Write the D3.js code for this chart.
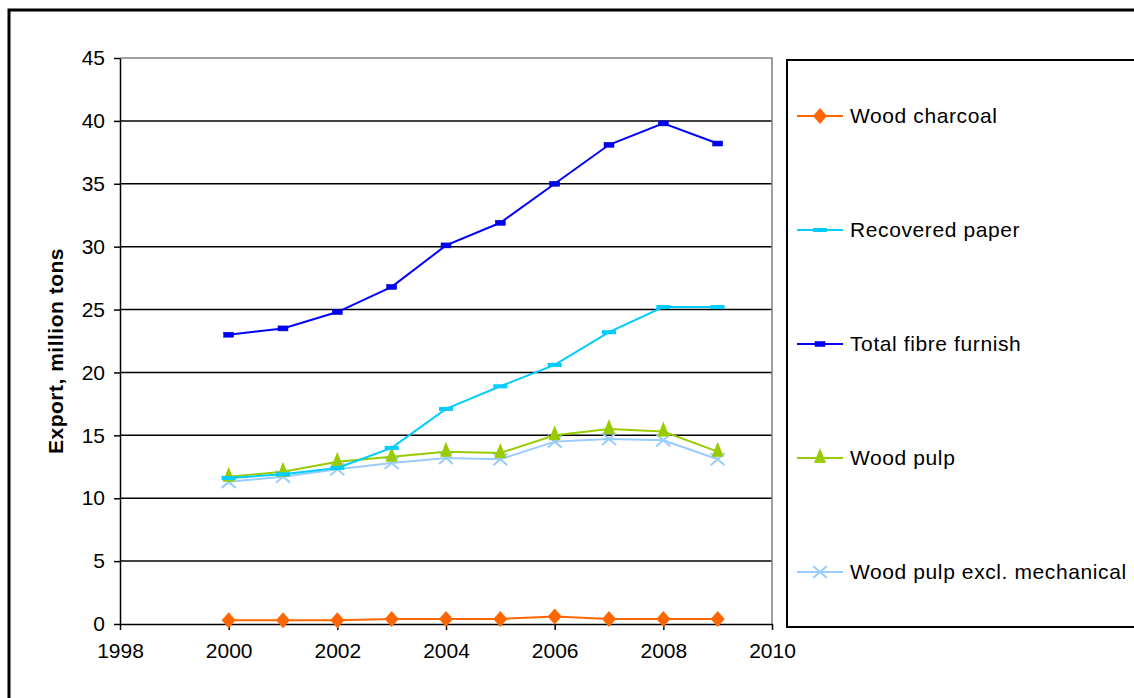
<!DOCTYPE html>
<html>
<head>
<meta charset="utf-8">
<script src="https://cdn.jsdelivr.net/npm/d3@7"></script>
<style>
  body { margin: 0; background: #fff; }
  svg { display: block; font-family: "Liberation Sans", Arial, sans-serif; }
</style>
</head>
<body>
<svg></svg>
<script>
const width = 1134;
const height = 698;

// Data
const years = [2000, 2001, 2002, 2003, 2004, 2005, 2006, 2007, 2008, 2009];
const woodCharcoal = [0.3, 0.3, 0.3, 0.4, 0.4, 0.4, 0.6, 0.4, 0.4, 0.4];
const recoveredPaper = [11.6, 11.9, 12.4, 14.0, 17.1, 18.9, 20.6, 23.2, 25.2, 25.2];
const totalFibre = [23.0, 23.5, 24.8, 26.8, 30.1, 31.9, 35.0, 38.1, 39.8, 38.2];
const woodPulp = [11.7, 12.1, 12.9, 13.3, 13.7, 13.6, 15.0, 15.5, 15.3, 13.7];
const woodPulpExcl = [11.3, 11.7, 12.3, 12.8, 13.2, 13.1, 14.5, 14.7, 14.6, 13.1];
const xTicks = [1998, 2000, 2002, 2004, 2006, 2008, 2010];
const yTicks = [0, 5, 10, 15, 20, 25, 30, 35, 40, 45];

const series = [
  { name: "Wood charcoal", values: woodCharcoal, color: "#ff6600", marker: "diamond" },
  { name: "Recovered paper", values: recoveredPaper, color: "#00ccff", marker: "dash" },
  { name: "Total fibre furnish", values: totalFibre, color: "#0000ff", marker: "square" },
  { name: "Wood pulp", values: woodPulp, color: "#99cc00", marker: "triangle" },
  { name: "Wood pulp excl. mechanical", values: woodPulpExcl, color: "#99ccff", marker: "cross" }
];

const svg = d3.select("svg")
  .attr("width", width)
  .attr("height", height);

// outer frame
svg.append("rect")
  .attr("x", 9).attr("y", 10)
  .attr("width", 1140).attr("height", 700)
  .attr("fill", "none")
  .attr("stroke", "#000")
  .attr("stroke-width", 3);

const plot = { left: 120, top: 58, right: 772, bottom: 624 };

const x = d3.scaleLinear().domain([1998, 2010]).range([plot.left, plot.right]);
const y = d3.scaleLinear().domain([0, 45]).range([plot.bottom, plot.top]);

// gridlines
svg.append("g")
  .selectAll("line")
  .data(yTicks.filter(d => d > 0 && d < 45))
  .enter().append("line")
  .attr("x1", plot.left).attr("x2", plot.right)
  .attr("y1", d => y(d)).attr("y2", d => y(d))
  .attr("stroke", "#000")
  .attr("stroke-width", 1.5);

// plot border (top, right)
svg.append("path")
  .attr("d", `M${plot.left},${plot.top}H${plot.right}V${plot.bottom}`)
  .attr("fill", "none")
  .attr("stroke", "#808080")
  .attr("stroke-width", 1.5);

// axes
const yAxis = svg.append("g")
  .attr("transform", `translate(${plot.left},0)`)
  .call(d3.axisLeft(y).tickValues(yTicks).tickSize(6).tickSizeOuter(0).tickPadding(9));
const xAxis = svg.append("g")
  .attr("transform", `translate(0,${plot.bottom})`)
  .call(d3.axisBottom(x).tickValues(xTicks).tickSize(6).tickSizeOuter(0).tickFormat(d3.format("d")).tickPadding(13));

[yAxis, xAxis].forEach(a => {
  a.select(".domain").attr("stroke", "#000").attr("stroke-width", 1.5);
  a.selectAll(".tick line").attr("stroke", "#000").attr("stroke-width", 1.5);
  a.selectAll("text").attr("font-size", 21).attr("fill", "#000")
    .attr("font-family", "Liberation Sans, Arial, sans-serif");
});

svg.append("text")
  .attr("transform", "translate(63,351) rotate(-90)")
  .attr("text-anchor", "middle")
  .attr("font-size", 21)
  .attr("letter-spacing", 0.5)
  .attr("font-weight", "bold")
  .text("Export, million tons");

// marker shapes
function drawMarker(g, type, color) {
  if (type === "diamond") {
    g.append("path").attr("d", "M0,-8L7,0L0,8L-7,0Z").attr("fill", color);
  } else if (type === "dash") {
    g.append("rect").attr("x", -7).attr("y", -2).attr("width", 14).attr("height", 4).attr("fill", color);
  } else if (type === "square") {
    g.append("rect").attr("x", -5).attr("y", -2.5).attr("width", 10).attr("height", 5).attr("fill", color)
      .attr("stroke", "#0000aa").attr("stroke-width", 0.5);
  } else if (type === "triangle") {
    g.append("path").attr("d", "M0,-10L6,5L-6,5Z").attr("fill", color);
  } else if (type === "cross") {
    g.append("path").attr("d", "M-7,-6L7,6M-7,6L7,-6").attr("stroke", color).attr("stroke-width", 2);
  }
}

const line = d3.line()
  .x((d, i) => x(years[i]))
  .y(d => y(d));

// draw order: back to front
const drawOrder = [4, 3, 1, 2, 0];
drawOrder.forEach(k => {
  const s = series[k];
  const g = svg.append("g");
  g.append("path")
    .datum(s.values)
    .attr("d", line)
    .attr("fill", "none")
    .attr("stroke", s.color)
    .attr("stroke-width", 2);
  s.values.forEach((v, i) => {
    const m = g.append("g").attr("transform", `translate(${x(years[i])},${y(v)})`);
    drawMarker(m, s.marker, s.color);
  });
});

// legend
svg.append("rect")
  .attr("x", 787).attr("y", 60)
  .attr("width", 400).attr("height", 567)
  .attr("fill", "#fff")
  .attr("stroke", "#000")
  .attr("stroke-width", 2);

const legend = svg.append("g")
  .selectAll("g")
  .data(series)
  .enter().append("g")
  .attr("transform", (d, i) => `translate(797,${116 + i * 114})`);

legend.append("line")
  .attr("x1", 0).attr("x2", 46)
  .attr("stroke", d => d.color)
  .attr("stroke-width", 2);
legend.each(function (d) {
  const m = d3.select(this).append("g").attr("transform", "translate(23,0)");
  drawMarker(m, d.marker, d.color);
});
legend.append("text")
  .attr("x", 53)
  .attr("dy", "0.35em")
  .attr("font-size", 21)
  .attr("letter-spacing", 0.6)
  .attr("fill", "#000")
  .text(d => d.name);
</script>
</body>
</html>
